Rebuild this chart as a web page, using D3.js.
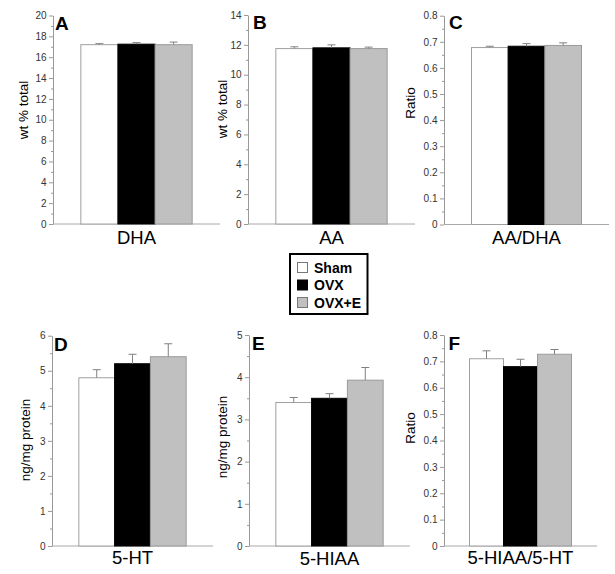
<!DOCTYPE html>
<html>
<head>
<meta charset="utf-8">
<script src="https://cdn.jsdelivr.net/npm/d3@7"></script>
<style>
  html, body { margin: 0; padding: 0; background: #fff; }
  svg { display: block; font-family: "Liberation Sans", Arial, sans-serif; }
</style>
</head>
<body>
<svg id="chart" width="615" height="574"></svg>
<script>
// ---------- data ----------
const series = ["Sham", "OVX", "OVX+E"];
const panelLetters = ["A", "B", "C", "D", "E", "F"];
const categories = ["DHA", "AA", "AA/DHA", "5-HT", "5-HIAA", "5-HIAA/5-HT"];
const yLabels = ["wt % total", "wt % total", "Ratio", "ng/mg protein", "ng/mg protein", "Ratio"];
const shamValues = [17.2, 11.75, 0.678, 4.8, 3.4, 0.71];
const ovxValues  = [17.25, 11.8, 0.683, 5.2, 3.5, 0.68];
const ovxEValues = [17.2, 11.75, 0.686, 5.4, 3.93, 0.727];
const shamErr = [0.1, 0.12, 0.005, 0.23, 0.12, 0.03];
const ovxErr  = [0.15, 0.2, 0.01, 0.27, 0.11, 0.028];
const ovxEErr = [0.25, 0.1, 0.01, 0.37, 0.3, 0.018];
const yMax = [20, 14, 0.8, 6, 5, 0.8];
const yTickLabels = [
  ["0","2","4","6","8","10","12","14","16","18","20"],
  ["0","2","4","6","8","10","12","14"],
  ["0","0.1","0.2","0.3","0.4","0.5","0.6","0.7","0.8"],
  ["0","1","2","3","4","5","6"],
  ["0","1","2","3","4","5"],
  ["0","0.1","0.2","0.3","0.4","0.5","0.6","0.7","0.8"]
];

// ---------- layout ----------
const layout = [
  {x0: 53,  x1: 220, yTop: 15.5, yBot: 224, labX: 23,  labY: 110, catY: 244, letX: 55,  letY: 30},
  {x0: 248, x1: 415, yTop: 15,   yBot: 224, labX: 222, labY: 109, catY: 244, letX: 253, letY: 29},
  {x0: 444, x1: 609, yTop: 15.7, yBot: 224.5, labX: 410, labY: 103, catY: 244, letX: 449, letY: 29},
  {x0: 52,  x1: 213, yTop: 335.7, yBot: 546, labX: 25,  labY: 440, catY: 564, letX: 54,  letY: 351},
  {x0: 249, x1: 410, yTop: 335,  yBot: 546, labX: 222, labY: 437, catY: 565, letX: 252, letY: 349.5},
  {x0: 444, x1: 597, yTop: 335,  yBot: 546, labX: 410, labY: 428, catY: 564, letX: 448.5, letY: 349.5}
];
const fills   = {"Sham": "#ffffff", "OVX": "#000000", "OVX+E": "#c0c0c0"};
const strokes = {"Sham": "#a0a0a0", "OVX": "#000000", "OVX+E": "#9a9a9a"};
const FONT = "'Liberation Sans', Arial, sans-serif";

const svg = d3.select("#chart");

categories.forEach((cat, i) => {
  const L = layout[i];
  const g = svg.append("g");
  const values = [shamValues[i], ovxValues[i], ovxEValues[i]];
  const errs = [shamErr[i], ovxErr[i], ovxEErr[i]];
  const rows = series.map((s, k) => ({s, v: values[k], e: errs[k]}));

  const y = d3.scaleLinear().domain([0, yMax[i]]).range([L.yBot, L.yTop]);
  const x0 = d3.scaleBand().domain([cat]).range([L.x0, L.x1]).padding(0.2);
  const x1 = d3.scaleBand().domain(series).range([0, x0.bandwidth()]);

  const majors = yTickLabels[i].map(Number);
  const step = majors[1] - majors[0];
  const minors = majors.slice(0, -1).map(m => m + step / 2);

  // minor ticks
  const minorAxis = d3.axisLeft(y).tickValues(minors).tickSize(2).tickSizeOuter(0).tickFormat("");
  const gm = g.append("g").attr("transform", `translate(${L.x0},0)`).call(minorAxis);
  gm.select(".domain").remove();
  gm.selectAll("line").attr("stroke", "#999");

  // major axis
  const axis = d3.axisLeft(y).tickValues(majors).tickSize(4).tickSizeOuter(0)
    .tickFormat((d, k) => yTickLabels[i][k]);
  const ga = g.append("g").attr("transform", `translate(${L.x0},0)`).call(axis);
  ga.select(".domain").attr("stroke", "#999");
  ga.selectAll("line").attr("stroke", "#999");
  ga.selectAll("text").attr("font-family", FONT).attr("font-size", 10).attr("fill", "#333").attr("x", -6.5);

  // x axis baseline
  g.append("line").attr("x1", L.x0).attr("x2", L.x1).attr("y1", y(0)).attr("y2", y(0))
    .attr("stroke", "#a8a8a8").attr("stroke-width", 1);

  // bars
  const gx = x0(cat);
  g.selectAll("rect.bar").data(rows).enter().append("rect")
    .attr("class", "bar")
    .attr("x", d => gx + x1(d.s))
    .attr("width", x1.bandwidth())
    .attr("y", d => y(d.v))
    .attr("height", d => y(0) - y(d.v))
    .attr("fill", d => fills[d.s])
    .attr("stroke", d => strokes[d.s])
    .attr("stroke-width", 1);

  // error bars (upper only)
  const eg = g.selectAll("g.err").data(rows).enter().append("g").attr("class", "err");
  eg.append("line")
    .attr("x1", d => gx + x1(d.s) + x1.bandwidth() / 2)
    .attr("x2", d => gx + x1(d.s) + x1.bandwidth() / 2)
    .attr("y1", d => y(d.v))
    .attr("y2", d => y(d.v + d.e))
    .attr("stroke", "#808080").attr("stroke-width", 1);
  eg.append("line")
    .attr("x1", d => gx + x1(d.s) + x1.bandwidth() / 2 - 4)
    .attr("x2", d => gx + x1(d.s) + x1.bandwidth() / 2 + 4)
    .attr("y1", d => y(d.v + d.e))
    .attr("y2", d => y(d.v + d.e))
    .attr("stroke", "#808080").attr("stroke-width", 1);

  // category label
  g.append("text").attr("x", (L.x0 + L.x1) / 2).attr("y", L.catY)
    .attr("text-anchor", "middle").attr("font-family", FONT).attr("font-size", 18.5)
    .attr("fill", "#000").text(cat);

  // y label
  g.append("text").attr("transform", `translate(${L.labX},${L.labY}) rotate(-90)`)
    .attr("text-anchor", "middle").attr("dominant-baseline", "central")
    .attr("font-family", FONT).attr("font-size", 13.5).attr("fill", "#000").text(yLabels[i]);

  // panel letter
  g.append("text").attr("x", L.letX).attr("y", L.letY)
    .attr("font-family", FONT).attr("font-size", 19).attr("font-weight", "bold")
    .attr("fill", "#000").text(panelLetters[i]);
});

// legend
const leg = svg.append("g");
leg.append("rect").attr("x", 290).attr("y", 254).attr("width", 77.5).attr("height", 60)
  .attr("fill", "#fff").attr("stroke", "#000").attr("stroke-width", 2);
series.forEach((s, k) => {
  const cy = 267.5 + k * 17.5;
  leg.append("rect").attr("x", 297.5).attr("y", cy - 5).attr("width", 10).attr("height", 10)
    .attr("fill", fills[s]).attr("stroke", s === "OVX" ? "#000" : "#777").attr("stroke-width", 1);
  leg.append("text").attr("x", 314).attr("y", cy + 5).attr("font-family", FONT)
    .attr("font-size", 14).attr("font-weight", "bold").attr("fill", "#000").text(s);
});
</script>
</body>
</html>
